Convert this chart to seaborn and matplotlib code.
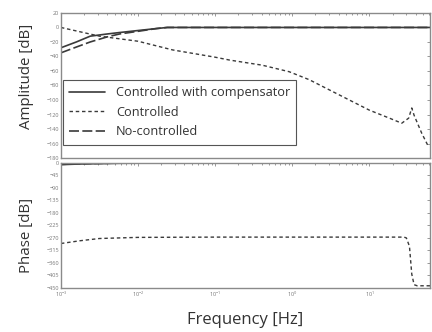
import numpy as np
import pandas as pd
import matplotlib
matplotlib.use("Agg")
import matplotlib.pyplot as plt
import seaborn as sns

# ---- data (log10 of frequency in Hz) ----
logf_comp = [-3.0, -2.8, -2.62, -2.4, -2.24, -1.98, -1.76, -1.62, 0.0, 1.0, 1.8]
mag_comp = [-28, -20, -12, -9, -7, -4, -1.5, 0, 0, 0, 0]
mag_noctrl = [-35, -27, -20, -13, -9, -5, -1.5, 0, 0, 0, 0]
phase_comp = [-6, -4, -3, -2, -1, -0.5, 0, 0, 0, 0, 0]

logf_ctrl_mag = [-3.0, -2.5, -2.0, -1.55, -1.0, -0.81, -0.39, -0.04, 0.22, 0.48,
                 0.74, 1.0, 1.26, 1.42, 1.51, 1.55, 1.58, 1.68, 1.77]
mag_ctrl = [0, -12, -19, -31, -41, -45, -52, -61, -72, -86,
            -100, -114, -125, -132, -125, -111, -121, -146, -165]

logf_ctrl_ph = [-3.0, -2.75, -2.5, -2.0, -1.0, 0.0, 1.0, 1.45, 1.48, 1.52, 1.55,
                1.58, 1.62, 1.8]
phase_ctrl = [-290, -280, -272, -268, -267, -267, -267, -267, -270, -300, -400,
              -438, -442, -442]

labels = ["Controlled with compensator", "Controlled", "No-controlled"]

sns.set_theme(style="white")
plt.rcParams["font.family"] = ["Open Sans", "DejaVu Sans"]

fig = plt.figure(figsize=(4.32, 3.32), dpi=100)
ax1 = fig.add_axes([0.141, 0.524, 0.855, 0.437])
ax2 = fig.add_axes([0.141, 0.1325, 0.855, 0.377])

lc = "#3a3a3a"
f_comp = 10.0 ** np.array(logf_comp)
f_cm = 10.0 ** np.array(logf_ctrl_mag)
f_cp = 10.0 ** np.array(logf_ctrl_ph)

sns.lineplot(x=f_comp, y=mag_comp, ax=ax1, color=lc, lw=1.2, linestyle="-",
             label=labels[0])
sns.lineplot(x=f_cm, y=mag_ctrl, ax=ax1, color=lc, lw=1.0, linestyle=(0, (2.5, 2)),
             label=labels[1])
sns.lineplot(x=f_comp, y=mag_noctrl, ax=ax1, color=lc, lw=1.2, linestyle=(0, (6, 2)),
             label=labels[2])

sns.lineplot(x=f_comp, y=phase_comp, ax=ax2, color=lc, lw=1.4, linestyle="-", legend=False)
sns.lineplot(x=f_cp, y=phase_ctrl, ax=ax2, color=lc, lw=1.0, linestyle=(0, (2.5, 2)),
             legend=False)
sns.lineplot(x=f_comp, y=phase_comp, ax=ax2, color=lc, lw=1.0, linestyle=(0, (6, 2)),
             legend=False)

xmax = 10 ** 1.79
for ax in (ax1, ax2):
    ax.set_xscale("log")
    ax.set_xlim(1e-3, xmax)
    ax.tick_params(axis="both", which="both", direction="in", top=True, right=True,
                   labelsize=4, labelcolor="#777777", color="#888888", length=2.5,
                   width=0.6, pad=1.5)
    ax.tick_params(axis="x", which="minor", length=1.5)
    for s in ax.spines.values():
        s.set_color("#8a8a8a")
        s.set_linewidth(1.0)

ax1.set_ylim(-180, 20)
ax1.set_yticks(np.arange(-180, 21, 20))
ax1.tick_params(axis="x", which="both", labelbottom=False)
ax1.set_ylabel("Amplitude [dB]", fontsize=10.8, color="#333333")
ax1.yaxis.set_label_coords(-0.072, 0.566)

ax2.set_ylim(-450, 0)
ax2.set_yticks(np.arange(-450, 1, 45))
ax2.set_xticks([1e-3, 1e-2, 1e-1, 1e0, 1e1])
ax2.set_ylabel("Phase [dB]", fontsize=10.8, color="#333333")
ax2.yaxis.set_label_coords(-0.072, 0.424)
ax2.set_xlabel("Frequency [Hz]", fontsize=12, color="#333333", labelpad=9)

leg = ax1.legend(loc="upper left", bbox_to_anchor=(0.005, 0.538), fontsize=9.2,
                 frameon=True, fancybox=False, edgecolor="#555555", framealpha=1,
                 handlelength=2.8, handletextpad=0.85, borderpad=0.5,
                 labelspacing=0.5, borderaxespad=0)
leg.get_frame().set_linewidth(0.8)
for t in leg.get_texts():
    t.set_color("#333333")

fig.savefig("out.png", dpi=100)
